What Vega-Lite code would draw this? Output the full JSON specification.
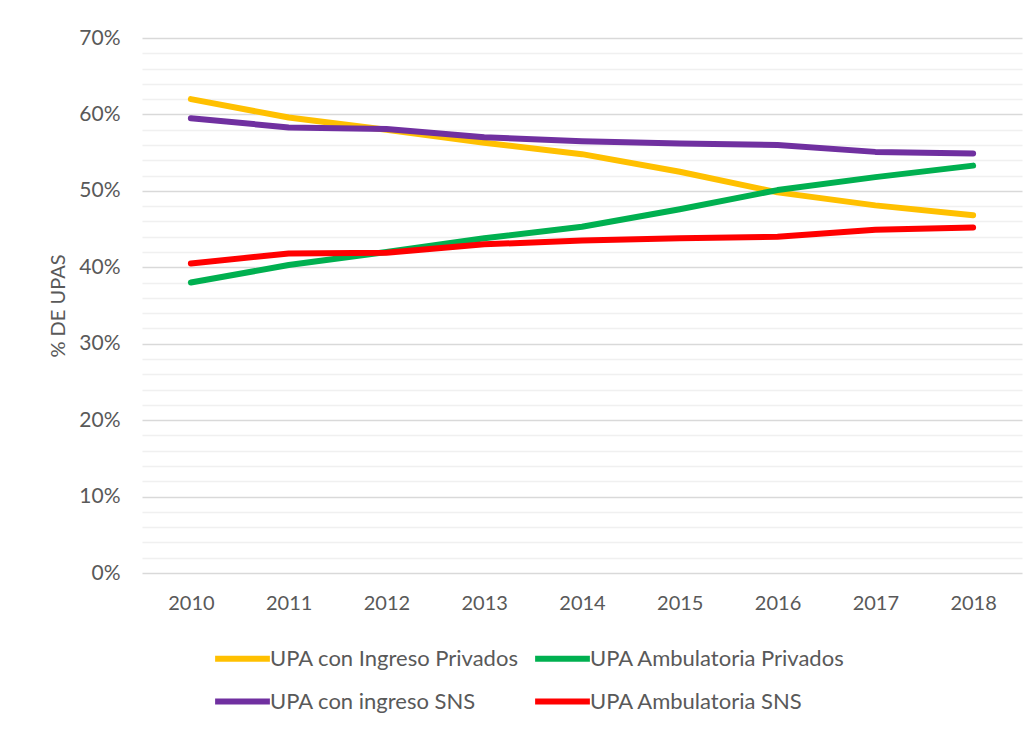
{
  "$schema": "https://vega.github.io/schema/vega-lite/v6.json",
  "width": 880,
  "height": 535,
  "autosize": {"type": "none"},
  "padding": {"left": 142, "top": 38, "right": 12, "bottom": 158},
  "background": "white",
  "config": {"font": "Lato", "view": {"stroke": null}},
  "data": {
    "values": [
      {"year": "2010", "serie": "UPA con Ingreso Privados", "pct": 62.0},
      {"year": "2011", "serie": "UPA con Ingreso Privados", "pct": 59.6},
      {"year": "2012", "serie": "UPA con Ingreso Privados", "pct": 58.0},
      {"year": "2013", "serie": "UPA con Ingreso Privados", "pct": 56.3},
      {"year": "2014", "serie": "UPA con Ingreso Privados", "pct": 54.8},
      {"year": "2015", "serie": "UPA con Ingreso Privados", "pct": 52.5},
      {"year": "2016", "serie": "UPA con Ingreso Privados", "pct": 49.8},
      {"year": "2017", "serie": "UPA con Ingreso Privados", "pct": 48.1},
      {"year": "2018", "serie": "UPA con Ingreso Privados", "pct": 46.8},
      {"year": "2010", "serie": "UPA Ambulatoria Privados", "pct": 38.0},
      {"year": "2011", "serie": "UPA Ambulatoria Privados", "pct": 40.3},
      {"year": "2012", "serie": "UPA Ambulatoria Privados", "pct": 42.0},
      {"year": "2013", "serie": "UPA Ambulatoria Privados", "pct": 43.8},
      {"year": "2014", "serie": "UPA Ambulatoria Privados", "pct": 45.3},
      {"year": "2015", "serie": "UPA Ambulatoria Privados", "pct": 47.6},
      {"year": "2016", "serie": "UPA Ambulatoria Privados", "pct": 50.1},
      {"year": "2017", "serie": "UPA Ambulatoria Privados", "pct": 51.8},
      {"year": "2018", "serie": "UPA Ambulatoria Privados", "pct": 53.3},
      {"year": "2010", "serie": "UPA con ingreso SNS", "pct": 59.5},
      {"year": "2011", "serie": "UPA con ingreso SNS", "pct": 58.3},
      {"year": "2012", "serie": "UPA con ingreso SNS", "pct": 58.1},
      {"year": "2013", "serie": "UPA con ingreso SNS", "pct": 57.0},
      {"year": "2014", "serie": "UPA con ingreso SNS", "pct": 56.5},
      {"year": "2015", "serie": "UPA con ingreso SNS", "pct": 56.2},
      {"year": "2016", "serie": "UPA con ingreso SNS", "pct": 56.0},
      {"year": "2017", "serie": "UPA con ingreso SNS", "pct": 55.1},
      {"year": "2018", "serie": "UPA con ingreso SNS", "pct": 54.9},
      {"year": "2010", "serie": "UPA Ambulatoria SNS", "pct": 40.5},
      {"year": "2011", "serie": "UPA Ambulatoria SNS", "pct": 41.8},
      {"year": "2012", "serie": "UPA Ambulatoria SNS", "pct": 41.9},
      {"year": "2013", "serie": "UPA Ambulatoria SNS", "pct": 43.0},
      {"year": "2014", "serie": "UPA Ambulatoria SNS", "pct": 43.5},
      {"year": "2015", "serie": "UPA Ambulatoria SNS", "pct": 43.8},
      {"year": "2016", "serie": "UPA Ambulatoria SNS", "pct": 44.0},
      {"year": "2017", "serie": "UPA Ambulatoria SNS", "pct": 44.9},
      {"year": "2018", "serie": "UPA Ambulatoria SNS", "pct": 45.2}
    ]
  },
  "mark": {"type": "line", "strokeWidth": 6, "strokeCap": "round", "strokeJoin": "round"},
  "encoding": {
    "x": {
      "field": "year",
      "type": "ordinal",
      "scale": {"type": "point", "padding": 0.5},
      "axis": {
        "title": null,
        "labelAngle": 0,
        "domain": false,
        "ticks": false,
        "grid": false,
        "labelPadding": 20,
        "labelFontSize": 20,
        "labelColor": "#595959"
      }
    },
    "y": {
      "field": "pct",
      "type": "quantitative",
      "scale": {"domain": [0, 70], "nice": false},
      "axis": {
        "title": "% DE UPAS",
        "titleFontSize": 20,
        "titleFontWeight": "normal",
        "titleColor": "#595959",
        "titlePadding": 10,
        "values": [0, 2, 4, 6, 8, 10, 12, 14, 16, 18, 20, 22, 24, 26, 28, 30, 32, 34, 36, 38, 40, 42, 44, 46, 48, 50, 52, 54, 56, 58, 60, 62, 64, 66, 68, 70],
        "labelExpr": "datum.value % 10 === 0 ? datum.value + '%' : ''",
        "domain": false,
        "ticks": false,
        "labelPadding": 22,
        "labelFontSize": 21,
        "labelColor": "#595959",
        "gridColor": {"condition": {"test": "datum.value % 10 === 0", "value": "#d9d9d9"}, "value": "#f0f0f0"},
        "gridWidth": 1.3
      }
    },
    "color": {
      "field": "serie",
      "type": "nominal",
      "sort": ["UPA con Ingreso Privados", "UPA Ambulatoria Privados", "UPA con ingreso SNS", "UPA Ambulatoria SNS"],
      "scale": {
        "domain": ["UPA con Ingreso Privados", "UPA Ambulatoria Privados", "UPA con ingreso SNS", "UPA Ambulatoria SNS"],
        "range": ["#FFC000", "#00B050", "#7030A0", "#FF0000"]
      },
      "legend": {
        "title": null,
        "orient": "none",
        "legendX": 70,
        "legendY": 590,
        "direction": "horizontal",
        "columns": 2,
        "symbolType": "stroke",
        "symbolSize": 3000,
        "symbolStrokeWidth": 6,
        "labelFontSize": 22,
        "labelColor": "#595959",
        "labelOffset": -3,
        "labelLimit": 400,
        "columnPadding": 4,
        "rowPadding": -10
      }
    }
  }
}
